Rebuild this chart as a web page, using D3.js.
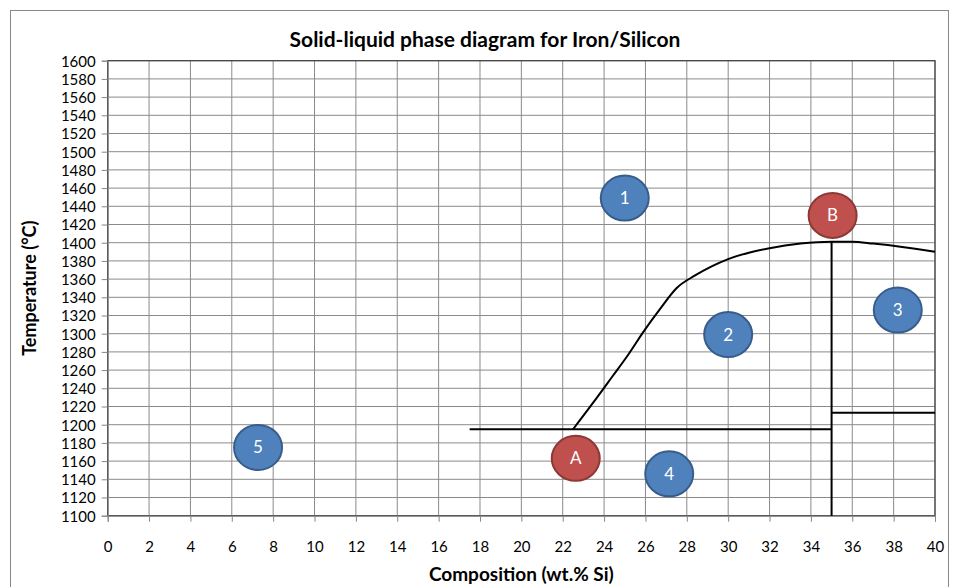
<!DOCTYPE html>
<html lang="en">
<head>
    <meta charset="UTF-8">
    <title>Solid-liquid phase diagram for Iron/Silicon</title>
    <script src="https://d3js.org/d3.v7.min.js"></script>
    <style>
        body { margin: 0; background: #fff; font-family: Lato, "Open Sans", Arial, sans-serif; }
        svg { display: block; }
    </style>
</head>
<body>
    <svg width="961" height="587"></svg>
    <script>
        // axis ticks
        const xTicks = d3.range(0, 41, 2);
        const yTicks = d3.range(1100, 1601, 20);

        // liquidus curve (wt.% Si, °C)
        const liquidus = [
            [22.5, 1195], [23.4, 1222], [24.4, 1253], [25.2, 1278], [25.9, 1302],
            [26.7, 1327], [27.5, 1350], [28.4, 1364], [29.2, 1374], [30.0, 1382],
            [31.0, 1389], [32.0, 1394], [33.5, 1399], [35.0, 1401], [36.0, 1401],
            [37.0, 1399], [38.5, 1395], [40.0, 1390]
        ];

        // straight phase boundaries
        const boundaries = [
            [[17.5, 1195], [35, 1195]],
            [[35, 1100], [35, 1401]],
            [[35, 1213], [40, 1213]]
        ];

        // region markers
        const markerLabels = ["1", "2", "3", "4", "5", "A", "B"];
        const markerX = [25, 30, 38.2, 27.15, 7.27, 22.63, 35.05];
        const markerY = [1449, 1299, 1326, 1146, 1175, 1163, 1430];
        const markerKind = ["region", "region", "region", "region", "region", "point", "point"];

        const svg = d3.select("svg");
        const plot = { left: 107.7, right: 935, top: 60.7, bottom: 515.7 };

        const x = d3.scaleLinear().domain([0, 40]).range([plot.left, plot.right]);
        const y = d3.scaleLinear().domain([1100, 1600]).range([plot.bottom, plot.top]);

        // chart area border
        svg.append("rect")
            .attr("x", 10.5).attr("y", 10.5)
            .attr("width", 938).attr("height", 600)
            .attr("fill", "#fff").attr("stroke", "#888");

        // gridlines
        const grid = svg.append("g").attr("stroke", "#8a8a8a").attr("stroke-width", 1);
        grid.selectAll("line.v").data(xTicks).enter().append("line")
            .attr("x1", d => x(d)).attr("x2", d => x(d))
            .attr("y1", plot.top).attr("y2", plot.bottom);
        grid.selectAll("line.h").data(yTicks).enter().append("line")
            .attr("x1", plot.left).attr("x2", plot.right)
            .attr("y1", d => y(d)).attr("y2", d => y(d));

        // plot border
        svg.append("rect")
            .attr("x", plot.left).attr("y", plot.top)
            .attr("width", plot.right - plot.left).attr("height", plot.bottom - plot.top)
            .attr("fill", "none").attr("stroke", "#404040").attr("stroke-width", 1.2);

        // axes
        const xAxis = svg.append("g")
            .attr("transform", `translate(0,${plot.bottom})`)
            .call(d3.axisBottom(x).tickValues(xTicks).tickSize(6).tickPadding(20).tickFormat(d3.format("d")));
        const yAxis = svg.append("g")
            .attr("transform", `translate(${plot.left},0)`)
            .call(d3.axisLeft(y).tickValues(yTicks).tickSize(6).tickPadding(6).tickFormat(d3.format("d")));
        [xAxis, yAxis].forEach(a => {
            a.select(".domain").attr("stroke", "#868686");
            a.selectAll(".tick line").attr("stroke", "#868686");
            a.selectAll("text").attr("font-size", 15).attr("fill", "#000")
                .attr("font-family", "Lato, 'Open Sans', Arial, sans-serif");
        });
        yAxis.selectAll("text").attr("dy", "0.36em");

        // boundaries
        const line = d3.line().x(d => x(d[0])).y(d => y(d[1]));
        svg.append("g").selectAll("path").data(boundaries).enter().append("path")
            .attr("d", line).attr("fill", "none").attr("stroke", "#000").attr("stroke-width", 2);

        svg.append("path").datum(liquidus)
            .attr("d", d3.line().x(d => x(d[0])).y(d => y(d[1])).curve(d3.curveMonotoneX))
            .attr("fill", "none").attr("stroke", "#000").attr("stroke-width", 2);

        // markers
        const fills = { region: "#4f81bd", point: "#c0504d" };
        const strokes = { region: "#385d8a", point: "#8c3836" };
        const mk = svg.append("g").selectAll("g").data(markerLabels).enter().append("g")
            .attr("transform", (d, i) => `translate(${x(markerX[i])},${y(markerY[i])})`);
        mk.append("ellipse")
            .attr("rx", 24).attr("ry", 22.5)
            .attr("fill", (d, i) => fills[markerKind[i]])
            .attr("stroke", (d, i) => strokes[markerKind[i]])
            .attr("stroke-width", 2);
        mk.append("text")
            .attr("text-anchor", "middle").attr("dy", "0.35em")
            .attr("fill", "#fff").attr("font-size", 17)
            .text(d => d);

        // title and axis labels
        svg.append("text")
            .attr("x", 485).attr("y", 47)
            .attr("text-anchor", "middle").attr("font-weight", "bold").attr("font-size", 21)
            .text("Solid-liquid phase diagram for Iron/Silicon");
        svg.append("text")
            .attr("x", (plot.left + plot.right) / 2).attr("y", 581)
            .attr("text-anchor", "middle").attr("font-weight", "bold").attr("font-size", 19)
            .text("Composition (wt.% Si)");
        svg.append("text")
            .attr("transform", `translate(36,${(plot.top + plot.bottom) / 2}) rotate(-90)`)
            .attr("text-anchor", "middle").attr("font-weight", "bold").attr("font-size", 18)
            .text("Temperature (°C)");
    </script>
</body>
</html>
